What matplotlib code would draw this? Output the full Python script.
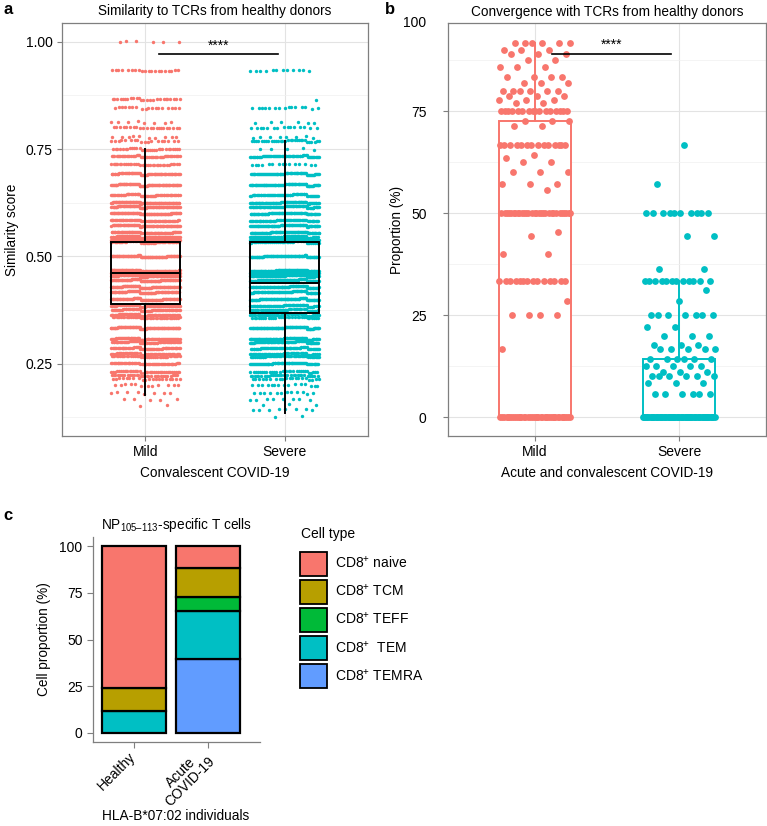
import numpy as np
import matplotlib
matplotlib.use("Agg")
import matplotlib.pyplot as plt
from matplotlib.patches import Patch

plt.rcParams['font.family'] = ['Liberation Sans', 'DejaVu Sans']
plt.rcParams['mathtext.fontset'] = 'custom'
plt.rcParams['mathtext.rm'] = 'Liberation Sans'
plt.rcParams['mathtext.it'] = 'Liberation Sans:italic'
plt.rcParams['mathtext.bf'] = 'Liberation Sans:bold'

SALMON = '#F8766D'
TEAL = '#00BFC4'

# ---- panel a: similarity scores (distinct levels and number of TCRs per level)
sim_levels = [1.0, 0.9333, 0.8667, 0.8462, 0.8125, 0.8, 0.7778, 0.7692, 0.75, 0.7333,
              0.7143, 0.6923, 0.6667, 0.6429, 0.625, 0.6154, 0.6, 0.5833, 0.5714, 0.5556,
              0.5455, 0.5385, 0.5333, 0.5, 0.4667, 0.4615, 0.4545, 0.4444, 0.4286, 0.4167,
              0.4, 0.3846, 0.375, 0.3636, 0.3571, 0.3333, 0.3077, 0.3, 0.2857, 0.2727,
              0.2667, 0.25, 0.2308, 0.2222, 0.2143, 0.2, 0.1818, 0.1667, 0.1538, 0.1429, 0.125]
sim_mild_counts = [6, 20, 25, 18, 8, 22, 10, 18, 30, 50,
                   35, 70, 80, 60, 90, 80, 90, 60, 80, 80,
                   70, 70, 50, 90, 80, 90, 80, 90, 90, 80,
                   90, 60, 60, 60, 40, 90, 70, 60, 60, 50,
                   40, 60, 40, 30, 20, 12, 8, 5, 2, 0, 0]
sim_severe_counts = [0, 12, 1, 15, 6, 15, 8, 30, 5, 60,
                     15, 70, 80, 60, 80, 70, 80, 60, 80, 80,
                     60, 70, 40, 90, 80, 90, 80, 90, 90, 80,
                     90, 60, 50, 40, 30, 90, 80, 70, 60, 50,
                     50, 70, 30, 30, 20, 15, 12, 8, 3, 8, 2]
# box statistics: q1, median, q3, lower whisker, upper whisker
sim_mild_box = [0.388, 0.462, 0.534, 0.176, 0.750]
sim_severe_box = [0.367, 0.437, 0.534, 0.134, 0.770]

# ---- panel b: convergence proportion (%) per patient
conv_mild = ([91.7] * 6 + [90] * 3 + [88.9] * 3 + [87.5] * 2 + [85.7] * 3 + [83.3] * 4
             + [81.8] * 3 + [80] * 6 + [78.6] * 3 + [77.8] * 3 + [76.9] * 2 + [75] * 16
             + [72.7] * 3 + [71.4] * 2 + [66.7] * 14 + [64.3] + [63.6] + [62.5] * 2
             + [60] * 3 + [57.1] * 3 + [55.6] + [50] * 30 + [45.5] + [44.4] + [40] * 2
             + [33.3] * 14 + [28.6] + [25] * 4 + [16.7] + [0] * 40)
conv_severe = ([66.7] + [57.1] + [50] * 10 + [44.4] * 2 + [36.4] * 2 + [33.3] * 12
               + [31.2] + [28.6] + [25] * 7 + [22.2] * 2 + [20] * 3 + [17.6] * 3
               + [16.7] * 5 + [14.3] * 6 + [12.5] * 5 + [11.1] * 3 + [10] * 6
               + [8.3] * 3 + [5.6] * 6 + [0] * 60)
conv_mild_box = [0, 50, 72.7, 0, 91.7]
conv_severe_box = [0, 0, 14.3, 0, 33.3]

# ---- panel c: cell type composition (%)
cell_types = ['CD8$^{+}$ naive', 'CD8$^{+}$ TCM', 'CD8$^{+}$ TEFF', 'CD8$^{+}$  TEM', 'CD8$^{+}$ TEMRA']
cell_colors = ['#F8766D', '#B79F00', '#00BA38', '#00BFC4', '#619CFF']
groups_c = ['Healthy', 'Acute\nCOVID-19']
healthy_pct = [75.8, 12.5, 0, 11.7, 0]
acute_pct = [11.6, 15.8, 7.5, 25.3, 39.8]


def spread(n, seed):
    # deterministic, evenly spread jitter in [-0.5, 0.5)
    return ((np.arange(n) * 0.6180339887 + seed) % 1.0) - 0.5


def style_ggplot(ax):
    ax.set_facecolor('white')
    for s in ax.spines.values():
        s.set_color('#7f7f7f')
        s.set_linewidth(0.9)
    ax.grid(True, which='major', color='#e3e3e3', linewidth=0.8)
    ax.grid(True, which='minor', color='#f0f0f0', linewidth=0.5)
    ax.set_axisbelow(True)
    ax.tick_params(which='major', color='#7f7f7f', length=3.5, labelsize=10, pad=3)
    ax.tick_params(which='minor', length=0)


def box(ax, pos, st, edge, fill, z):
    stats = [dict(q1=st[0], med=st[1], q3=st[2], whislo=st[3], whishi=st[4], fliers=[])]
    ax.bxp(stats, positions=[pos], widths=0.5, showfliers=False, showcaps=False,
           patch_artist=True, manage_ticks=False,
           boxprops=dict(facecolor=fill, edgecolor=edge, linewidth=1.4, zorder=z),
           medianprops=dict(color=edge, linewidth=1.4, zorder=z),
           whiskerprops=dict(color=edge, linewidth=1.4, zorder=z))


fig = plt.figure(figsize=(7.67, 8.26), dpi=100)
W, H = 767, 826


def axes_px(l, t, r, b):
    return fig.add_axes([l / W, 1 - b / H, (r - l) / W, (b - t) / H])


# ================= panel a
ax1 = axes_px(62, 23, 368, 436)
style_ggplot(ax1)
for i, (counts, col) in enumerate([(sim_mild_counts, SALMON), (sim_severe_counts, TEAL)]):
    y = np.repeat(sim_levels, counts)
    x = 1 + i + spread(len(y), 0.13 + 0.4 * i) * 0.5
    dy = spread(len(y), 0.71) * 0.004
    ax1.scatter(x, y + dy, s=6, color=col, linewidths=0, zorder=2)
box(ax1, 1, sim_mild_box, 'black', 'none', 3)
box(ax1, 2, sim_severe_box, 'black', 'none', 3)
ax1.set_xlim(0.4, 2.6)
ax1.set_ylim(0.081, 1.044)
ax1.set_xticks([1, 2])
ax1.set_xticklabels(['Mild', 'Severe'])
ax1.set_yticks([0.25, 0.5, 0.75, 1.0])
ax1.set_yticklabels(['0.25', '0.50', '0.75', '1.00'])
ax1.set_yticks([0.125, 0.375, 0.625, 0.875], minor=True)
ax1.set_ylabel('Similarity score', fontsize=9.8, labelpad=5)
ax1.set_xlabel('Convalescent COVID-19', fontsize=9.8, labelpad=5)
ax1.set_title('Similarity to TCRs from healthy donors', fontsize=9.8, pad=6)
ax1.plot([1.1, 1.95], [0.972, 0.972], color='black', linewidth=1.2, zorder=4)
ax1.text(1.525, 0.975, '****', ha='center', va='bottom', fontsize=10)

# ================= panel b
ax2 = axes_px(448, 23, 766, 436)
style_ggplot(ax2)
box(ax2, 1, conv_mild_box, SALMON, 'white', 2)
box(ax2, 2, conv_severe_box, TEAL, 'white', 2)
for i, (vals, col) in enumerate([(conv_mild, SALMON), (conv_severe, TEAL)]):
    y = np.array(vals, dtype=float)
    x = 1 + i + spread(len(y), 0.37 + 0.2 * i) * 0.5
    ax2.scatter(x, y, s=24, color=col, linewidths=0, zorder=3)
ax2.set_xlim(0.4, 2.6)
ax2.set_ylim(-4.6, 96.6)
ax2.set_xticks([1, 2])
ax2.set_xticklabels(['Mild', 'Severe'])
ax2.set_yticks([0, 25, 50, 75])
ax2.set_yticks([12.5, 37.5, 62.5, 87.5], minor=True)
ax2.tick_params(axis='y', pad=12)
ax2.text(-0.068, 1.0, '100', transform=ax2.transAxes, ha='right', va='center', fontsize=10)
ax2.set_ylabel('Proportion (%)', fontsize=9.8, labelpad=5)
ax2.set_xlabel('Acute and convalescent COVID-19', fontsize=9.8, labelpad=5)
ax2.set_title('Convergence with TCRs from healthy donors', fontsize=9.8, pad=5)
ax2.plot([1.12, 1.945], [89, 89], color='black', linewidth=1.2, zorder=4)
ax2.text(1.53, 89.6, '****', ha='center', va='bottom', fontsize=10)

# ================= panel c
ax3 = axes_px(93, 537, 260, 742)
for s in ['top', 'right']:
    ax3.spines[s].set_visible(False)
for s in ['left', 'bottom']:
    ax3.spines[s].set_color('#7f7f7f')
    ax3.spines[s].set_linewidth(0.9)
ax3.tick_params(color='#7f7f7f', length=4, labelsize=10)
xpos = np.arange(1, len(groups_c) + 1)
data_c = np.array([healthy_pct, acute_pct])
bottom = np.zeros(len(groups_c))
for k in range(len(cell_types) - 1, -1, -1):
    h = data_c[:, k]
    for j in range(len(groups_c)):
        if h[j] > 0:
            ax3.bar(xpos[j], h[j], bottom=bottom[j], width=0.87, color=cell_colors[k],
                    edgecolor='black', linewidth=1.6)
    bottom += h
ax3.set_xlim(0.45, 2.7)
ax3.set_ylim(-5, 105)
ax3.set_yticks([0, 25, 50, 75, 100])
ax3.set_xticks(xpos)
ax3.set_xticklabels(groups_c, rotation=45, ha='right', va='center', rotation_mode='anchor',
                    multialignment='center', linespacing=1.0)
ax3.tick_params(axis='x', pad=5)
ax3.set_ylabel('Cell proportion (%)', fontsize=9.8, labelpad=6)
ax3.set_title('NP$_{\\mathrm{105\u2013113}}$-specific T cells', fontsize=9.8, pad=6)
fig.text(176 / W, 1 - 816 / H, 'HLA-B*07:02 individuals', ha='center', va='center', fontsize=9.8)

fig.text(301 / W, 1 - 534 / H, 'Cell type', ha='left', va='center', fontsize=10)
handles = [Patch(facecolor=c, edgecolor='black', linewidth=1.3) for c in cell_colors]
leg = fig.legend(handles, cell_types, loc='upper left',
                 bbox_to_anchor=(294 / W, 1 - 546 / H), frameon=False, fontsize=10,
                 handlelength=1.95, handleheight=2.3, borderaxespad=0,
                 labelspacing=0.28, handletextpad=0.6)

# panel letters
fig.text(3 / W, 1 - 9 / H, 'a', fontsize=12, fontweight='bold', va='center')
fig.text(385 / W, 1 - 9 / H, 'b', fontsize=12, fontweight='bold', va='center')
fig.text(3 / W, 1 - 516 / H, 'c', fontsize=12, fontweight='bold', va='center')

fig.savefig('out.png', dpi=100, facecolor='white')
